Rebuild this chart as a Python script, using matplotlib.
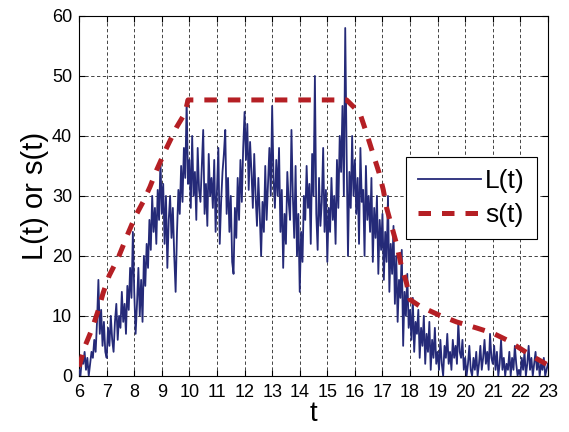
import numpy as np
import matplotlib.pyplot as plt

plt.rcParams['font.family'] = ['Liberation Sans', 'DejaVu Sans']

# load signal L(t), sampled every 0.05 from t=6 to t=23
t_start, t_step = 6.0, 0.05
load_vals = [
    # 6
    1, 0, 3, 2, 4, 1, 3, 0, 2, 4, 3, 6, 4, 9, 16, 7, 11, 5, 9, 4,
    # 7
    3, 8, 5, 10, 6, 4, 9, 12, 6, 10, 8, 14, 9, 12, 7, 15, 11, 18, 13, 24,
    # 8
    14, 7, 12, 18, 10, 16, 9, 20, 15, 22, 18, 26, 21, 30, 24, 28, 22, 31, 26, 36,
    # 9
    27, 32, 22, 30, 18, 26, 30, 23, 28, 20, 14, 24, 31, 27, 35, 29, 38, 33, 46, 32,
    # 10
    36, 28, 40, 30, 34, 26, 38, 31, 29, 35, 41, 27, 32, 25, 37, 30, 33, 28, 36, 24,
    # 11
    31, 38, 22, 29, 34, 37, 41, 27, 33, 24, 30, 19, 17, 28, 23, 33, 26, 36, 29, 38,
    # 12
    44, 36, 42, 31, 39, 34, 28, 37, 30, 25, 33, 27, 20, 29, 24, 35, 26, 32, 38, 30,
    # 13
    45, 33, 28, 36, 30, 38, 24, 31, 18, 27, 22, 34, 29, 26, 41, 30, 23, 35, 20, 27,
    # 14
    14, 24, 19, 30, 26, 35, 28, 32, 22, 37, 30, 50, 27, 21, 33, 25, 29, 38, 24, 31,
    # 15
    19, 28, 24, 33, 26, 30, 22, 36, 28, 40, 34, 45, 30, 58, 37, 20, 34, 28, 40, 30,
    # 16
    36, 27, 33, 22, 38, 29, 31, 20, 35, 26, 30, 24, 33, 19, 28, 23, 30, 17, 26, 21,
    # 17
    27, 16, 24, 19, 30, 14, 22, 17, 25, 12, 20, 9, 16, 13, 21, 5, 14, 10, 17, 8,
    # 18
    11, 6, 13, 4, 9, 7, 11, 3, 8, 5, 10, 2, 7, 4, 9, 1, 6, 3, 8, 2,
    # 19
    4, 1, 6, 2, 0, 5, 3, 7, 2, 4, 1, 6, 3, 5, 2, 9, 4, 3, 6, 1,
    # 20
    3, 0, 2, 5, 1, 0, 3, 1, 4, 0, 2, 5, 1, 3, 6, 2, 4, 1, 7, 3,
    # 21
    2, 5, 1, 4, 0, 2, 6, 1, 3, 0, 2, 1, 4, 0, 3, 1, 5, 2, 0, 1,
    # 22 .. 23
    0, 3, 1, 4, 0, 2, 5, 1, 3, 0, 2, 4, 1, 3, 0, 2, 1, 3, 0, 1, 2,
]
load_t = t_start + t_step * np.arange(len(load_vals))

# service curve s(t)
s_t = [6.0, 6.2, 6.46, 6.7, 6.87, 7.09, 7.42, 7.78, 8.03, 8.32, 8.57, 8.81,
       9.17, 9.54, 9.84, 9.95, 15.7, 16.18, 16.42, 16.66, 16.88, 17.03,
       17.15, 17.33, 17.51, 17.69, 17.87, 18.0, 18.36, 19.02, 19.68, 20.4,
       21.01, 21.5, 21.98, 22.46, 23.0]
s_vals = [1.5, 4.8, 7.7, 11, 13.8, 16.7, 19.7, 23.8, 26.5, 29, 31.5, 34.3,
          38, 41.5, 43.8, 46, 46, 43.8, 40.5, 37, 33.8, 31,
          28, 25, 22, 18.2, 15.5, 12.7, 11.6, 10.2, 9, 8,
          7.1, 6, 4.6, 3.2, 1.8]

fig = plt.figure(figsize=(5.69, 4.32), dpi=100)
ax = fig.add_axes([0.139, 0.130, 0.824, 0.833])

ax.plot(load_t, load_vals, color='#252a78', lw=1.3, label='L(t)', zorder=3)
ax.plot(s_t, s_vals, color='#b51f24', lw=3.6, linestyle=(0, (2.5, 2.2)),
        label='s(t)', zorder=4)

ax.set_xlim(6, 23)
ax.set_ylim(0, 60)
ax.set_xticks(np.arange(6, 24, 1))
ax.set_yticks(np.arange(0, 61, 10))
ax.tick_params(direction='in', labelsize=13, length=4, top=True, right=True)
ax.tick_params(axis='x', pad=6)
ax.tick_params(axis='y', pad=5)
ax.grid(True, color='black', linestyle=(0, (4, 3)), lw=0.6, alpha=0.85)
ax.set_axisbelow(True)
for sp in ax.spines.values():
    sp.set_linewidth(0.8)

ax.set_xlabel('t', fontsize=20, labelpad=0)
ax.set_ylabel('L(t) or s(t)', fontsize=21, labelpad=2)

leg = ax.legend(loc='upper left', bbox_to_anchor=(0.697, 0.608), fontsize=19,
                fancybox=False, framealpha=1, edgecolor='black',
                handlelength=2.4, borderpad=0.45, labelspacing=0.4,
                handletextpad=0.15, borderaxespad=0)
leg.get_frame().set_linewidth(0.8)

fig.savefig('out.png', dpi=100)
